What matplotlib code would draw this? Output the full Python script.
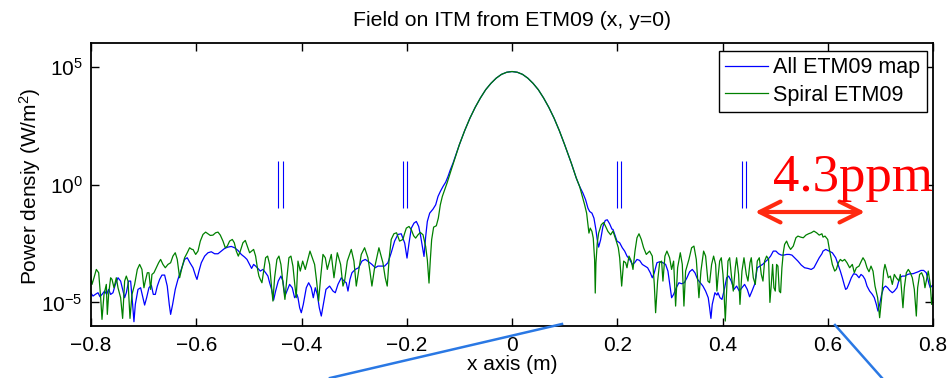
import numpy as np
import matplotlib
matplotlib.use("Agg")
import matplotlib.pyplot as plt
from matplotlib.lines import Line2D
from matplotlib.ticker import NullLocator

plt.rcParams['font.family'] = ['Liberation Sans', 'DejaVu Sans']
plt.rcParams['mathtext.fontset'] = 'custom'
plt.rcParams['mathtext.rm'] = 'Liberation Sans'
plt.rcParams['mathtext.it'] = 'Liberation Sans:italic'
plt.rcParams['mathtext.bf'] = 'Liberation Sans:bold'

# ---------------- data (x in m, value as log10 of W/m^2) ----------------
peak_pts = [(-0.10, 1.69), (-0.09, 2.28), (-0.08, 2.81), (-0.07, 3.27), (-0.06, 3.67),
            (-0.05, 4.02), (-0.04, 4.29), (-0.03, 4.51), (-0.02, 4.67), (-0.01, 4.76),
            (0.00, 4.79), (0.01, 4.76), (0.02, 4.67), (0.03, 4.51), (0.04, 4.29),
            (0.05, 4.02), (0.06, 3.67), (0.07, 3.27), (0.08, 2.81), (0.09, 2.28), (0.10, 1.69)]

blue_left_pts = [
    (-0.8006, -4.589), (-0.7962, -4.731), (-0.7918, -4.660), (-0.7867, -4.589), (-0.7829, -4.759),
    (-0.7791, -4.660), (-0.7741, -4.519), (-0.7703, -4.660), (-0.7665, -4.448), (-0.7627, -4.660),
    (-0.7582, -4.589), (-0.7538, -4.236), (-0.7487, -3.954), (-0.7437, -4.095), (-0.7392, -4.519),
    (-0.7361, -4.801), (-0.7329, -4.589), (-0.7285, -4.095), (-0.7247, -4.095), (-0.7209, -5.084),
    (-0.7184, -5.818), (-0.7158, -5.084), (-0.7107, -4.448), (-0.7057, -4.378), (-0.7013, -4.801),
    (-0.6981, -5.112), (-0.6943, -4.801), (-0.6899, -4.378), (-0.6854, -4.265), (-0.6816, -4.660),
    (-0.6778, -4.660), (-0.6740, -4.307), (-0.6696, -4.024), (-0.6652, -3.841), (-0.6601, -3.841),
    (-0.6551, -4.307), (-0.6513, -5.084), (-0.6487, -5.507), (-0.6449, -5.084), (-0.6399, -4.448),
    (-0.6348, -4.024), (-0.6285, -3.601), (-0.6221, -3.177), (-0.6171, -3.106), (-0.6120, -3.318),
    (-0.6062, -3.530), (-0.6011, -3.883), (-0.5986, -4.024), (-0.5948, -3.671), (-0.5904, -3.318),
    (-0.5840, -3.036), (-0.5777, -2.894), (-0.5714, -2.852), (-0.5651, -2.937), (-0.5587, -2.937),
    (-0.5524, -2.824), (-0.5461, -2.711), (-0.5397, -2.654), (-0.5334, -2.626), (-0.5271, -2.683),
    (-0.5207, -2.796), (-0.5144, -2.965), (-0.5081, -3.078), (-0.5036, -3.177), (-0.4986, -3.389),
    (-0.4948, -3.558), (-0.4910, -3.389), (-0.4872, -3.460), (-0.4828, -3.558), (-0.4783, -3.671),
    (-0.4733, -3.601), (-0.4682, -3.742), (-0.4638, -3.883), (-0.4606, -4.166), (-0.4568, -4.448),
    (-0.4530, -4.901), (-0.4492, -4.519), (-0.4442, -4.095), (-0.4391, -3.883), (-0.4353, -4.095),
    (-0.4315, -4.731), (-0.4277, -4.519), (-0.4226, -4.236), (-0.4176, -4.378), (-0.4131, -4.801),
    (-0.4087, -4.660), (-0.4067, -4.801), (-0.4035, -5.225), (-0.4004, -5.437), (-0.3966, -5.084),
    (-0.3909, -4.378), (-0.3864, -4.166), (-0.3814, -4.378), (-0.3776, -4.801), (-0.3738, -4.378),
    (-0.3700, -4.660), (-0.3662, -5.225), (-0.3624, -5.578), (-0.3586, -5.084), (-0.3535, -4.448),
    (-0.3466, -4.307), (-0.3402, -4.519), (-0.3358, -4.589), (-0.3307, -4.236), (-0.3244, -3.954),
    (-0.3193, -4.095), (-0.3149, -4.166), (-0.3117, -4.519), (-0.3079, -4.024), (-0.3041, -3.742),
    (-0.2978, -3.601), (-0.2915, -3.530), (-0.2852, -3.248), (-0.2788, -3.177), (-0.2725, -3.276),
    (-0.2662, -3.389), (-0.2598, -3.530), (-0.2548, -3.460), (-0.2485, -3.460), (-0.2421, -3.460),
    (-0.2358, -3.318), (-0.2295, -2.894), (-0.2231, -2.400), (-0.2168, -2.118), (-0.2105, -2.089),
    (-0.2039, -2.485), (-0.1995, -3.120), (-0.1957, -2.485), (-0.1913, -1.849), (-0.1862, -1.637),
    (-0.1818, -1.567), (-0.1773, -1.779), (-0.1735, -2.202), (-0.1704, -2.626), (-0.1672, -3.050),
    (-0.1640, -2.202), (-0.1609, -1.567), (-0.1564, -1.214), (-0.1501, -1.044), (-0.1450, -0.860),
    (-0.1406, -0.507), (-0.1362, -0.296), (-0.1311, -0.084), (-0.1260, 0.100), (-0.1216, 0.340),
    (-0.1172, 0.623), (-0.1121, 0.905)]

blue_right_pts = [
    (0.1127, 0.905), (0.1222, 0.270), (0.1285, -0.084), (0.1348, -0.366), (0.1399, -0.649),
    (0.1443, -1.002), (0.1475, -1.143), (0.1519, -1.214), (0.1557, -1.425), (0.1595, -1.920),
    (0.1620, -2.343), (0.1646, -2.654), (0.1684, -2.343), (0.1728, -1.779), (0.1772, -1.524),
    (0.1810, -1.496), (0.1855, -1.666), (0.1899, -1.892), (0.1919, -1.906), (0.1951, -2.118),
    (0.1995, -2.400), (0.2046, -2.471), (0.2096, -2.683), (0.2141, -2.824), (0.2185, -3.036),
    (0.2236, -3.177), (0.2286, -3.389), (0.2330, -3.318), (0.2375, -3.177), (0.2425, -3.219),
    (0.2476, -3.389), (0.2527, -3.460), (0.2577, -3.530), (0.2628, -3.742), (0.2666, -3.954),
    (0.2704, -3.742), (0.2754, -3.318), (0.2805, -3.276), (0.2868, -3.318), (0.2919, -3.389),
    (0.2963, -3.671), (0.3008, -4.378), (0.3033, -4.801), (0.3071, -4.660), (0.3122, -4.378),
    (0.3172, -4.166), (0.3223, -4.208), (0.3274, -4.166), (0.3324, -3.954), (0.3375, -3.699),
    (0.3426, -3.601), (0.3476, -3.742), (0.3527, -4.024), (0.3578, -4.166), (0.3628, -4.307),
    (0.3679, -4.519), (0.3729, -4.801), (0.3755, -5.225), (0.3780, -5.677), (0.3805, -5.084),
    (0.3856, -4.589), (0.3894, -4.688), (0.3914, -4.589), (0.3952, -4.801), (0.3990, -4.872),
    (0.4028, -4.519), (0.4079, -3.954), (0.4117, -3.883), (0.4167, -4.095), (0.4218, -4.448),
    (0.4268, -4.307), (0.4319, -4.519), (0.4370, -4.378), (0.4420, -4.236), (0.4471, -4.448),
    (0.4515, -4.760), (0.4560, -4.519), (0.4610, -4.236), (0.4661, -3.530), (0.4712, -3.460),
    (0.4762, -3.389), (0.4813, -3.276), (0.4863, -3.177), (0.4914, -3.036), (0.4965, -2.824),
    (0.5015, -2.824), (0.5066, -2.937), (0.5117, -2.993), (0.5167, -2.993), (0.5218, -2.965),
    (0.5269, -2.965), (0.5319, -2.993), (0.5370, -3.106), (0.5433, -3.248), (0.5497, -3.417),
    (0.5560, -3.530), (0.5623, -3.558), (0.5686, -3.601), (0.5737, -3.530), (0.5788, -3.318),
    (0.5838, -3.106), (0.5889, -2.937), (0.5910, -2.824), (0.5961, -2.753), (0.6024, -2.824),
    (0.6087, -2.894), (0.6151, -3.106), (0.6195, -3.389), (0.6239, -3.671), (0.6277, -3.954),
    (0.6315, -4.265), (0.6340, -4.448), (0.6366, -4.406), (0.6404, -4.208), (0.6448, -3.954),
    (0.6492, -3.784), (0.6543, -3.813), (0.6594, -3.954), (0.6632, -3.813), (0.6670, -3.883),
    (0.6708, -4.024), (0.6746, -4.307), (0.6796, -4.519), (0.6847, -4.660), (0.6885, -4.801),
    (0.6923, -5.084), (0.6954, -5.366), (0.6986, -5.084), (0.7024, -4.660), (0.7062, -4.378),
    (0.7100, -4.307), (0.7138, -4.378), (0.7176, -4.490), (0.7227, -4.589), (0.7265, -4.519),
    (0.7315, -4.378), (0.7366, -3.954), (0.7417, -3.883), (0.7467, -3.883), (0.7518, -3.813),
    (0.7569, -3.784), (0.7619, -3.784), (0.7670, -3.742), (0.7720, -3.699), (0.7771, -3.643),
    (0.7822, -3.643), (0.7872, -3.742), (0.7923, -4.208), (0.7948, -4.378), (0.7974, -4.307),
    (0.7999, -4.265)]

green_left_pts = [
    (-0.8006, -3.883), (-0.7981, -4.236), (-0.7943, -3.954), (-0.7899, -3.601), (-0.7854, -3.742),
    (-0.7816, -4.801), (-0.7791, -5.719), (-0.7753, -4.660), (-0.7709, -4.236), (-0.7690, -5.507),
    (-0.7665, -4.660), (-0.7627, -3.954), (-0.7601, -4.024), (-0.7563, -4.378), (-0.7519, -3.954),
    (-0.7487, -4.378), (-0.7437, -4.801), (-0.7399, -5.677), (-0.7361, -4.095), (-0.7329, -3.883),
    (-0.7297, -4.095), (-0.7259, -5.677), (-0.7221, -4.660), (-0.7171, -4.236), (-0.7120, -3.601),
    (-0.7076, -3.389), (-0.7032, -3.601), (-0.6994, -4.378), (-0.6968, -4.095), (-0.6930, -3.742),
    (-0.6899, -3.742), (-0.6867, -4.448), (-0.6842, -3.813), (-0.6804, -3.742), (-0.6759, -3.530),
    (-0.6715, -3.318), (-0.6677, -3.177), (-0.6633, -3.389), (-0.6588, -3.530), (-0.6538, -3.389),
    (-0.6487, -3.318), (-0.6443, -3.036), (-0.6399, -2.894), (-0.6361, -3.177), (-0.6316, -3.954),
    (-0.6272, -3.530), (-0.6221, -3.106), (-0.6171, -2.894), (-0.6126, -2.683), (-0.6082, -2.753),
    (-0.6062, -2.753), (-0.6011, -2.965), (-0.5967, -2.824), (-0.5923, -2.400), (-0.5872, -2.118),
    (-0.5822, -2.019), (-0.5777, -2.089), (-0.5733, -2.160), (-0.5682, -2.146), (-0.5632, -2.047),
    (-0.5587, -2.019), (-0.5543, -2.146), (-0.5492, -2.400), (-0.5448, -2.683), (-0.5410, -2.612),
    (-0.5366, -2.400), (-0.5315, -2.330), (-0.5277, -2.471), (-0.5239, -2.824), (-0.5201, -3.036),
    (-0.5163, -2.824), (-0.5113, -2.471), (-0.5068, -2.372), (-0.5030, -2.612), (-0.4986, -2.894),
    (-0.4948, -2.824), (-0.4910, -2.753), (-0.4872, -3.036), (-0.4834, -3.601), (-0.4809, -3.883),
    (-0.4783, -4.024), (-0.4752, -4.166), (-0.4720, -3.671), (-0.4682, -3.106), (-0.4644, -3.036),
    (-0.4606, -3.389), (-0.4568, -4.378), (-0.4543, -4.943), (-0.4511, -3.954), (-0.4467, -3.177),
    (-0.4429, -3.036), (-0.4391, -3.389), (-0.4353, -4.166), (-0.4315, -4.872), (-0.4277, -3.954),
    (-0.4239, -3.106), (-0.4201, -3.036), (-0.4163, -3.460), (-0.4131, -4.166), (-0.4100, -4.801),
    (-0.4067, -3.248), (-0.4023, -3.671), (-0.3978, -3.248), (-0.3928, -3.601), (-0.3839, -2.824),
    (-0.3751, -3.389), (-0.3713, -4.095), (-0.3675, -4.943), (-0.3637, -3.954), (-0.3592, -2.965),
    (-0.3548, -3.106), (-0.3510, -3.601), (-0.3434, -2.965), (-0.3383, -3.954), (-0.3320, -2.894),
    (-0.3257, -3.389), (-0.3212, -4.307), (-0.3181, -4.095), (-0.3130, -3.248), (-0.3054, -2.753),
    (-0.3004, -3.248), (-0.2959, -4.307), (-0.2915, -3.671), (-0.2864, -2.965), (-0.2801, -2.683),
    (-0.2738, -3.106), (-0.2700, -3.671), (-0.2662, -4.307), (-0.2611, -3.530), (-0.2529, -2.683),
    (-0.2453, -3.318), (-0.2409, -3.954), (-0.2371, -4.307), (-0.2333, -3.106), (-0.2295, -2.330),
    (-0.2244, -2.089), (-0.2194, -2.047), (-0.2136, -2.400), (-0.2073, -2.330), (-0.2039, -2.061),
    (-0.2008, -1.849), (-0.1957, -1.779), (-0.1913, -1.920), (-0.1869, -2.174), (-0.1831, -2.273),
    (-0.1786, -2.132), (-0.1742, -2.033), (-0.1691, -2.132), (-0.1641, -2.626), (-0.1609, -3.191),
    (-0.1577, -4.180), (-0.1552, -3.191), (-0.1527, -2.343), (-0.1489, -1.807), (-0.1438, -1.750),
    (-0.1400, -1.425), (-0.1362, -0.860), (-0.1324, -0.507), (-0.1280, -0.225), (-0.1235, 0.058),
    (-0.1185, 0.411), (-0.1134, 0.764)]

green_right_pts = [
    (0.1127, 0.905), (0.1222, 0.270), (0.1285, -0.084), (0.1329, -0.437), (0.1380, -0.860),
    (0.1418, -1.214), (0.1443, -1.708), (0.1462, -2.061), (0.1487, -1.849), (0.1519, -1.990),
    (0.1544, -2.273), (0.1570, -3.191), (0.1582, -4.603), (0.1595, -3.332), (0.1620, -2.485),
    (0.1646, -2.061), (0.1696, -1.708), (0.1741, -1.609), (0.1779, -1.779), (0.1823, -1.990),
    (0.1874, -2.132), (0.1919, -1.976), (0.1982, -2.400), (0.2020, -2.683), (0.2046, -3.106),
    (0.2084, -4.307), (0.2122, -3.248), (0.2160, -3.318), (0.2185, -3.530), (0.2223, -3.036),
    (0.2267, -3.248), (0.2299, -3.601), (0.2337, -2.824), (0.2375, -2.259), (0.2413, -2.089),
    (0.2457, -2.330), (0.2501, -2.683), (0.2552, -2.965), (0.2615, -2.824), (0.2666, -3.036),
    (0.2704, -4.236), (0.2729, -5.437), (0.2767, -4.095), (0.2805, -3.318), (0.2843, -3.248),
    (0.2868, -4.095), (0.2906, -3.036), (0.2944, -2.824), (0.2995, -3.106), (0.3033, -3.601),
    (0.3071, -3.248), (0.3109, -5.155), (0.3147, -3.530), (0.3198, -2.894), (0.3236, -3.389),
    (0.3267, -5.155), (0.3299, -3.671), (0.3362, -3.177), (0.3413, -2.683), (0.3457, -2.612),
    (0.3502, -3.177), (0.3552, -4.801), (0.3590, -3.671), (0.3641, -2.824), (0.3679, -3.036),
    (0.3723, -4.095), (0.3755, -4.166), (0.3793, -3.389), (0.3831, -3.036), (0.3869, -3.389),
    (0.3894, -4.519), (0.3914, -3.954), (0.3946, -3.248), (0.3977, -3.106), (0.4009, -3.813),
    (0.4028, -4.519), (0.4053, -5.790), (0.4079, -4.519), (0.4104, -3.248), (0.4136, -3.106),
    (0.4167, -3.813), (0.4205, -4.519), (0.4243, -3.530), (0.4268, -3.106), (0.4306, -3.813),
    (0.4332, -5.084), (0.4370, -3.671), (0.4408, -3.106), (0.4452, -3.813), (0.4484, -4.095),
    (0.4522, -3.318), (0.4547, -3.106), (0.4585, -3.954), (0.4623, -4.236), (0.4661, -3.248),
    (0.4699, -3.106), (0.4737, -3.813), (0.4769, -4.095), (0.4800, -3.248), (0.4838, -3.036),
    (0.4876, -3.177), (0.4901, -5.000), (0.4927, -4.236), (0.4952, -3.389), (0.4977, -4.378),
    (0.5003, -4.519), (0.5028, -3.389), (0.5053, -3.460), (0.5079, -4.519), (0.5104, -4.589),
    (0.5129, -3.530), (0.5155, -2.894), (0.5180, -2.541), (0.5218, -2.400), (0.5256, -2.612),
    (0.5294, -2.753), (0.5345, -2.612), (0.5395, -2.259), (0.5433, -2.188), (0.5484, -2.231),
    (0.5535, -2.259), (0.5585, -2.146), (0.5636, -2.089), (0.5686, -2.047), (0.5737, -1.976),
    (0.5788, -2.047), (0.5838, -2.146), (0.5889, -2.089), (0.5910, -2.231), (0.5948, -2.188),
    (0.5999, -2.330), (0.6037, -2.824), (0.6087, -3.389), (0.6132, -3.671), (0.6163, -3.601),
    (0.6201, -3.318), (0.6239, -3.177), (0.6277, -3.248), (0.6321, -3.177), (0.6366, -3.318),
    (0.6416, -3.530), (0.6467, -3.389), (0.6505, -3.742), (0.6543, -3.530), (0.6594, -3.460),
    (0.6638, -3.248), (0.6670, -3.106), (0.6708, -3.248), (0.6746, -3.530), (0.6784, -3.699),
    (0.6822, -3.460), (0.6860, -3.671), (0.6898, -4.307), (0.6948, -4.801), (0.6986, -5.649),
    (0.7024, -4.801), (0.7062, -3.671), (0.7087, -3.389), (0.7113, -3.601), (0.7151, -3.954),
    (0.7189, -3.883), (0.7227, -4.236), (0.7265, -3.813), (0.7303, -3.954), (0.7354, -4.095),
    (0.7379, -3.813), (0.7404, -4.519), (0.7429, -5.225), (0.7455, -4.378), (0.7493, -3.742),
    (0.7531, -3.601), (0.7569, -3.742), (0.7607, -3.954), (0.7645, -4.448), (0.7683, -5.578),
    (0.7708, -4.378), (0.7746, -3.813), (0.7784, -3.742), (0.7822, -3.954), (0.7847, -4.378),
    (0.7872, -4.095), (0.7910, -3.671), (0.7948, -4.236), (0.7974, -5.084), (0.7999, -4.660)]

marker_x = [-0.444, -0.436, -0.208, -0.200, 0.200, 0.207, 0.4365, 0.4447]
marker_span = (0.1, 9.5)

series_labels = ["All ETM09 map", "Spiral ETM09"]
xticks = [-0.8, -0.6, -0.4, -0.2, 0, 0.2, 0.4, 0.6, 0.8]
xtick_labels = ["\u22120.8", "\u22120.6", "\u22120.4", "\u22120.2", "0", "0.2", "0.4", "0.6", "0.8"]
yticks = [1e-5, 1e0, 1e5]
ytick_labels = [r"$10^{-5}$", r"$10^{0}$", r"$10^{5}$"]


def series(*parts):
    pts = [p for part in parts for p in part]
    x = np.array([p[0] for p in pts])
    y = 10.0 ** np.array([p[1] for p in pts])
    return x, y


bx, by = series(blue_left_pts, peak_pts, blue_right_pts)
gx, gy = series(green_left_pts, peak_pts, green_right_pts)

# ---------------- figure ----------------
W, H = 951, 378
fig = plt.figure(figsize=(W / 100, H / 100), dpi=100)
ax = fig.add_axes([91 / W, 1 - 326 / H, (933 - 91) / W, (326 - 43) / H])

ax.semilogy(bx, by, color=(0, 0, 1), lw=0.9, label=series_labels[0])
ax.semilogy(gx, gy, color=(0, 0.5, 0), lw=0.9, label=series_labels[1])
ax.vlines(marker_x, marker_span[0], marker_span[1], colors=(0, 0, 1), lw=0.8)

ax.set_xlim(-0.8, 0.8)
ax.set_ylim(1e-6, 1e6)
ax.set_xticks(xticks)
ax.set_xticklabels(xtick_labels)
ax.set_yticks(yticks)
ax.set_yticklabels(ytick_labels)
ax.yaxis.set_minor_locator(NullLocator())
ax.xaxis.set_minor_locator(NullLocator())
ax.tick_params(direction='in', top=True, right=True, length=6, width=1.0,
               labelsize=15, colors='black')
ax.tick_params(axis='x', pad=7)
ax.tick_params(axis='y', pad=6)
for s in ax.spines.values():
    s.set_linewidth(1.3)

leg = ax.legend(loc='upper right', bbox_to_anchor=(927 / W, 1 - 51 / H),
                bbox_transform=fig.transFigure, fontsize=15.5, frameon=True,
                fancybox=False, edgecolor='black', framealpha=1, borderaxespad=0,
                handlelength=2.0, handletextpad=0.25, borderpad=0.3, labelspacing=0.3)
leg.get_frame().set_linewidth(1.0)

fig.text(512 / W, 1 - 26.5 / H, "Field on ITM from ETM09 (x, y=0)", ha='center',
         va='baseline', fontsize=15.3)
fig.text(512 / W, 1 - 370 / H, "x axis (m)", ha='center', va='baseline', fontsize=15)
fig.text(30 / W, 1 - 186 / H, "Power densiy (W/m$^{2}$)", ha='center', va='center',
         rotation=90, fontsize=15)

# red annotation
fig.text(773 / W, 1 - 191.5 / H, "4.3ppm", color='red', fontsize=38,
         family=['Liberation Serif', 'DejaVu Serif'], ha='left', va='baseline')
ax.annotate('', xy=(865, H - 212), xycoords='figure pixels',
            xytext=(755, H - 212), textcoords='figure pixels',
            arrowprops=dict(arrowstyle='<->,head_length=1.5,head_width=0.75',
                            color='#ff2a10', lw=3.0, shrinkA=0, shrinkB=0))

# blue callout lines below the axes
fig.add_artist(Line2D([562 / W, 330 / W], [1 - 324 / H, 1 - 378 / H],
                      transform=fig.transFigure, color='#2a78e4', lw=1.8))
fig.add_artist(Line2D([835 / W, 882 / W], [1 - 325 / H, 1 - 378 / H],
                      transform=fig.transFigure, color='#2a78e4', lw=1.8))

fig.savefig('out.png', dpi=100)
